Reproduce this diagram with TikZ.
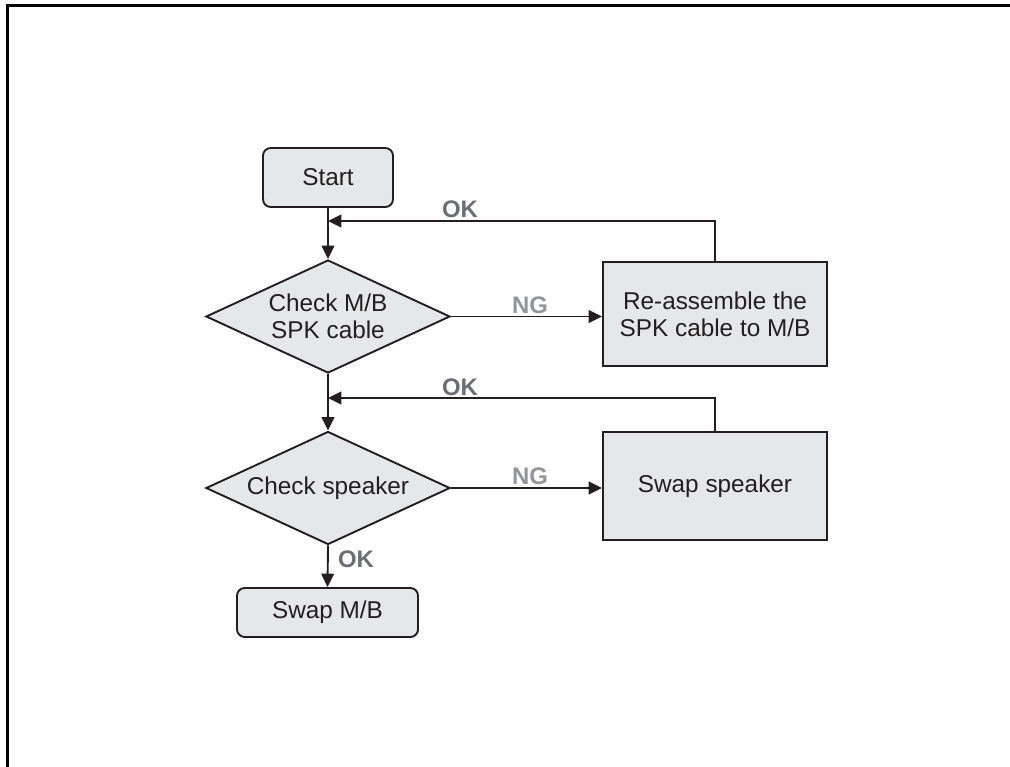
\documentclass[tikz,border=0pt]{standalone}
\usepackage{fontspec}
\setmainfont{Liberation Sans}
\usetikzlibrary{shapes.geometric,arrows.meta}
\definecolor{boxfill}{HTML}{E6E7E8}
\definecolor{inkline}{HTML}{231F20}
\definecolor{okgray}{HTML}{6D6E71}
\definecolor{nggray}{HTML}{939598}

\begin{document}
\begin{tikzpicture}[
        x=0.025cm, y=-0.025cm,
        line width=1.35pt,
        font=\fontsize{17.3}{19}\selectfont,
        termbox/.style={draw=inkline, fill=boxfill, text=inkline, rounded corners=5.5pt, inner sep=0pt},
        actbox/.style={draw=inkline, fill=boxfill, text=inkline, align=center, inner sep=0pt},
        checkbox/.style={diamond, draw=inkline, fill=boxfill, text=inkline, align=center, inner sep=0pt,
            aspect=2.17, minimum width=6.1cm, minimum height=2.825cm},
        arrow/.style={draw=inkline, -{Triangle[length=9.5pt, width=9pt]}},
        oklabel/.style={text=okgray, font=\fontsize{17}{19}\selectfont\bfseries},
        nglabel/.style={text=nggray, font=\fontsize{17}{19}\selectfont\bfseries}
    ]

    \useasboundingbox (0,0) rectangle (1010,767);

    % ==========================================
    % FRAME (top and left edges only)
    % ==========================================
    \draw[line width=2.2pt, black] (7.5,767) -- (7.5,5.5) -- (1010,5.5);

    % ==========================================
    % NODES
    % ==========================================
    \node[termbox, minimum width=3.25cm, minimum height=1.475cm] (start) at (328,177.5) {Start};
    \node[checkbox] (cable) at (328,316.5) {Check M/B\\SPK cable};
    \node[actbox, minimum width=5.6cm, minimum height=2.6cm] (reseat) at (715,314) {Re-assemble the\\SPK cable to M/B};
    \node[checkbox] (spk) at (328,488) {Check speaker};
    \node[actbox, minimum width=5.6cm, minimum height=2.7cm] (swapspk) at (715,486) {Swap speaker};
    \node[termbox, minimum width=4.525cm, minimum height=1.225cm] (swapmb) at (327.5,612.5) {Swap M/B};

    % ==========================================
    % ROW 1: cable check
    % ==========================================
    \coordinate (okin1) at (328,221);
    \draw[arrow] (start) -- (cable);
    \draw[arrow] (reseat.north) |- (okin1);
    \node[oklabel] (oktop) at (460,209) {OK};
    \draw[arrow] (cable.east) -- (cable.east -| reseat.west);
    \node[nglabel] (ngtop) at (530,305) {NG};

    % ==========================================
    % ROW 2: speaker check
    % ==========================================
    \coordinate (okin2) at (328,398);
    \draw[arrow] (cable.south) -- (spk.north);
    \draw[arrow] (swapspk.north) |- (okin2);
    \node[oklabel] (okmid) at (460,387) {OK};
    \draw[arrow] (spk.east) -- (spk.east -| swapspk.west);
    \node[nglabel] (ngmid) at (530,476) {NG};

    % ==========================================
    % END
    % ==========================================
    \draw[arrow] (spk.south) -- (swapmb.north);
    \node[oklabel] (okend) at (356,559) {OK};

\end{tikzpicture}
\end{document}
